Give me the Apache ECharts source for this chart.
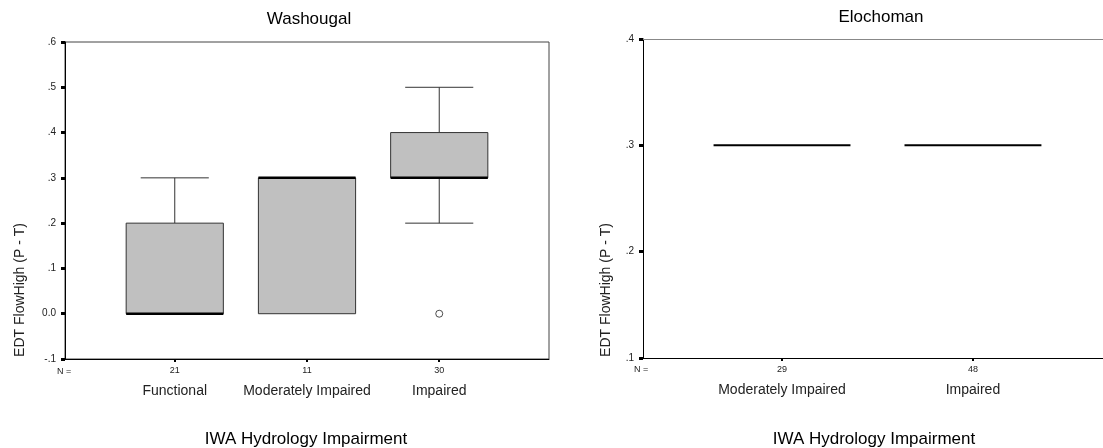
<!DOCTYPE html>
<html><head><meta charset="utf-8">
<script src="https://cdn.jsdelivr.net/npm/echarts@6/dist/echarts.min.js"></script>
<style>html,body{margin:0;padding:0;background:#fff}#c{width:1103px;height:448px}</style>
</head><body><div id="c"></div>
<script>
// ---- Washougal ----
const wCategories = ['Functional', 'Moderately Impaired', 'Impaired'];
const wN = [21, 11, 30];
const wMin = [0, 0, 0.2];
const wQ1 = [0, 0, 0.3];
const wMedian = [0, 0.3, 0.3];
const wQ3 = [0.2, 0.3, 0.4];
const wMax = [0.3, 0.3, 0.5];
const wOutliers = [[3, 0]];
const wYTicks = [-0.1, 0, 0.1, 0.2, 0.3, 0.4, 0.5, 0.6];
// ---- Elochoman ----
const eCategories = ['Moderately Impaired', 'Impaired'];
const eN = [29, 48];
const eMin = [0.3, 0.3];
const eQ1 = [0.3, 0.3];
const eMedian = [0.3, 0.3];
const eQ3 = [0.3, 0.3];
const eMax = [0.3, 0.3];
const eYTicks = [0.1, 0.2, 0.3, 0.4];

const FONT = '"Liberation Sans", Arial, sans-serif';

function rows(mins, q1s, meds, q3s, maxs) {
  return mins.map((v, i) => [i + 1, v, q1s[i], meds[i], q3s[i], maxs[i]]);
}

function makeRender(boxW, capW, medW) {
  return function (params, api) {
    const x = api.value(0);
    const mn = api.value(1), q1 = api.value(2), md = api.value(3), q3 = api.value(4), mx = api.value(5);
    const pMin = api.coord([x, mn]), pQ1 = api.coord([x, q1]), pMd = api.coord([x, md]);
    const pQ3 = api.coord([x, q3]), pMx = api.coord([x, mx]);
    const bw = api.size([boxW, 0])[0];
    const cw = api.size([capW, 0])[0];
    const cx = pMd[0];
    const ls = { stroke: '#333', lineWidth: 1 };
    const children = [];
    if (mx > q3) {
      children.push({ type: 'line', shape: { x1: cx, y1: pQ3[1], x2: cx, y2: pMx[1] }, style: ls });
      children.push({ type: 'line', shape: { x1: cx - cw / 2, y1: pMx[1], x2: cx + cw / 2, y2: pMx[1] }, style: ls });
    }
    if (mn < q1) {
      children.push({ type: 'line', shape: { x1: cx, y1: pQ1[1], x2: cx, y2: pMin[1] }, style: ls });
      children.push({ type: 'line', shape: { x1: cx - cw / 2, y1: pMin[1], x2: cx + cw / 2, y2: pMin[1] }, style: ls });
    }
    if (q3 > q1) {
      children.push({ type: 'rect', shape: { x: cx - bw / 2, y: pQ3[1], width: bw, height: pQ1[1] - pQ3[1] },
        style: { fill: '#c0c0c0', stroke: '#333', lineWidth: 1 } });
    }
    children.push({ type: 'line', shape: { x1: cx - bw / 2, y1: pMd[1], x2: cx + bw / 2, y2: pMd[1] },
      style: { stroke: '#000', lineWidth: medW } });
    return { type: 'group', children };
  };
}

function yFmt(v) {
  const r = Math.round(v * 10) / 10;
  if (r === 0) return '0.0';
  return r.toFixed(1).replace('0.', '.');
}

function xAxisCfg(gridIndex, min, max, cats, ns) {
  const vals = cats.map((c, i) => i + 1);
  return {
    type: 'value', gridIndex, min, max,
    axisLine: { show: true, onZero: false, lineStyle: { color: '#000', width: 1 } },
    splitLine: { show: false },
    axisTick: { show: true, customValues: vals, length: 3, lineStyle: { color: '#000', width: 2 } },
    axisLabel: {
      customValues: vals, margin: 5, color: '#222',
      formatter: v => { const i = Math.round(v) - 1; return '{n|' + ns[i] + '}\n{c|' + cats[i] + '}'; },
      rich: {
        n: { fontSize: 9, fontFamily: FONT, lineHeight: 14, color: '#222' },
        c: { fontSize: 14, fontFamily: FONT, lineHeight: 26, color: '#222' }
      }
    }
  };
}

function topAxisCfg(gridIndex, min, max, color) {
  return {
    type: 'value', gridIndex, min, max, position: 'top',
    axisLine: { show: true, onZero: false, lineStyle: { color, width: 1 } },
    axisTick: { show: false }, axisLabel: { show: false }, splitLine: { show: false }
  };
}

function yAxisCfg(gridIndex, min, max) {
  return {
    type: 'value', gridIndex, min, max, interval: 0.1,
    axisLine: { show: true, lineStyle: { color: '#000', width: 1 } },
    splitLine: { show: false },
    axisTick: { show: true, length: 4, lineStyle: { color: '#000', width: 3 } },
    axisLabel: { formatter: yFmt, fontSize: 10, fontFamily: FONT, color: '#222', margin: 9 }
  };
}

const chart = echarts.init(document.getElementById('c'), null, { renderer: 'canvas' });
chart.setOption({
  animation: false,
  backgroundColor: '#fff',
  title: [
    { text: 'Washougal', left: 304, top: 6, textAlign: 'center', textStyle: { fontSize: 17, fontWeight: 'normal', fontFamily: FONT, color: '#000' } },
    { text: 'Elochoman', left: 876, top: 4, textAlign: 'center', textStyle: { fontSize: 17, fontWeight: 'normal', fontFamily: FONT, color: '#000' } }
  ],
  grid: [
    { left: 65, top: 42, width: 484, height: 317, show: true, borderColor: '#444', borderWidth: 1, backgroundColor: 'transparent' },
    { left: 643, top: 39, right: 0, height: 319 }
  ],
  xAxis: [
    xAxisCfg(0, 0.17, 3.83, wCategories, wN),
    xAxisCfg(1, 0.272, 2.681, eCategories, eN),
    topAxisCfg(1, 0.272, 2.681, '#888')
  ],
  yAxis: [
    yAxisCfg(0, wYTicks[0], wYTicks[wYTicks.length - 1]),
    yAxisCfg(1, eYTicks[0], eYTicks[eYTicks.length - 1])
  ],
  graphic: [
    { type: 'text', x: 20, y: 290, rotation: Math.PI / 2, style: { text: 'EDT FlowHigh (P - T)', fontSize: 14, fontFamily: FONT, fill: '#222', textAlign: 'center', textVerticalAlign: 'middle' } },
    { type: 'text', x: 606, y: 290, rotation: Math.PI / 2, style: { text: 'EDT FlowHigh (P - T)', fontSize: 14, fontFamily: FONT, fill: '#222', textAlign: 'center', textVerticalAlign: 'middle' } },
    { type: 'text', x: 57, y: 372, style: { text: 'N =', fontSize: 9, fontFamily: FONT, fill: '#222', textVerticalAlign: 'middle' } },
    { type: 'text', x: 634, y: 370, style: { text: 'N =', fontSize: 9, fontFamily: FONT, fill: '#222', textVerticalAlign: 'middle' } },
    { type: 'text', x: 306, y: 439, style: { text: 'IWA Hydrology Impairment', fontSize: 17, fontFamily: FONT, fill: '#000', textAlign: 'center', textVerticalAlign: 'middle' } },
    { type: 'text', x: 874, y: 439, style: { text: 'IWA Hydrology Impairment', fontSize: 17, fontFamily: FONT, fill: '#000', textAlign: 'center', textVerticalAlign: 'middle' } }
  ],
  series: [
    { type: 'custom', xAxisIndex: 0, yAxisIndex: 0, renderItem: makeRender(0.735, 0.515, 2.5),
      encode: { x: 0, y: [1, 2, 3, 4, 5] }, data: rows(wMin, wQ1, wMedian, wQ3, wMax), z: 3 },
    { type: 'scatter', xAxisIndex: 0, yAxisIndex: 0, data: wOutliers, symbol: 'circle', symbolSize: 7,
      itemStyle: { color: '#fff', borderColor: '#222', borderWidth: 1 }, z: 4 },
    { type: 'custom', xAxisIndex: 1, yAxisIndex: 1, renderItem: makeRender(0.717, 0.5, 2),
      encode: { x: 0, y: [1, 2, 3, 4, 5] }, data: rows(eMin, eQ1, eMedian, eQ3, eMax), z: 3 }
  ]
});
</script>
</body></html>
